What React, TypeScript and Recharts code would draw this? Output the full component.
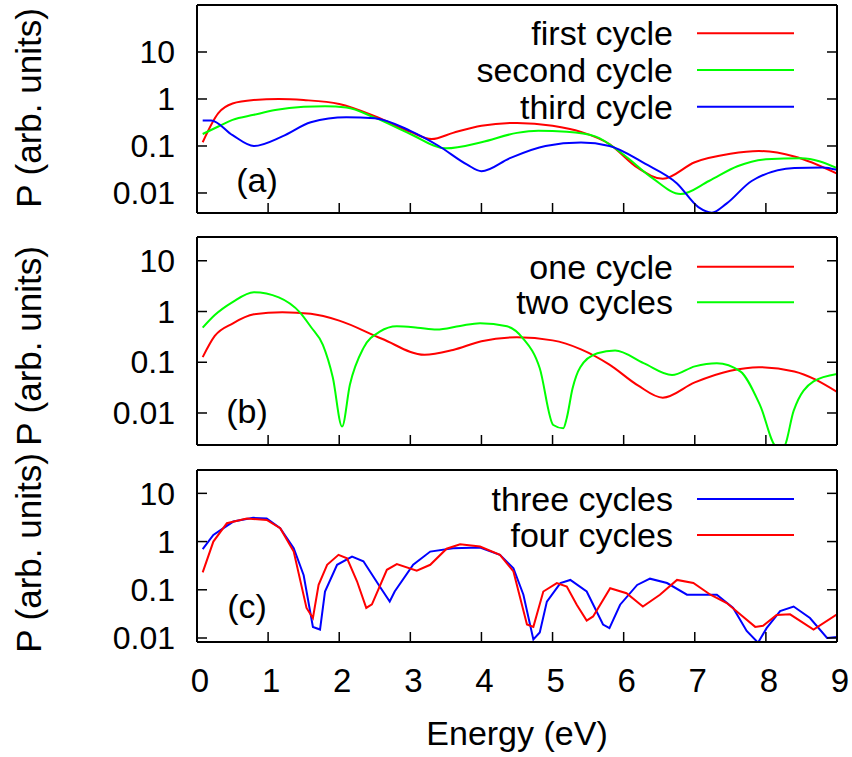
import React from 'react';
import { LineChart, Line, XAxis, YAxis, Legend } from 'recharts';

const FONT = '"Liberation Sans", Arial, Helvetica, sans-serif';

// x axis (Energy, eV) and y axis ticks
const energyTicks = [0, 1, 2, 3, 4, 5, 6, 7, 8, 9];
const powerTicks = [0.01, 0.1, 1, 10];

// panel (a)
const aFirstE = [0.08, 0.3, 0.5, 0.8, 1.15, 1.5, 2.0, 2.5, 3.0, 3.3, 3.6, 4.0, 4.5, 5.0, 5.4, 5.8, 6.2, 6.55, 7.0, 7.5, 7.9, 8.4, 9.0];
const aFirstP = [0.12, 0.5, 0.8, 0.95, 1.0, 0.95, 0.78, 0.43, 0.2, 0.14, 0.19, 0.27, 0.31, 0.27, 0.2, 0.11, 0.034, 0.02, 0.045, 0.068, 0.078, 0.06, 0.026];
const aSecondE = [0.08, 0.3, 0.5, 0.8, 1.1, 1.5, 1.8, 2.1, 2.5, 3.0, 3.5, 4.0, 4.5, 4.8, 5.2, 5.6, 6.0, 6.4, 6.8, 7.2, 7.6, 8.0, 8.5, 9.0];
const aSecondP = [0.18, 0.26, 0.36, 0.46, 0.58, 0.68, 0.7, 0.66, 0.4, 0.18, 0.089, 0.12, 0.19, 0.21, 0.2, 0.16, 0.065, 0.021, 0.0095, 0.018, 0.037, 0.052, 0.055, 0.034];
const aThirdE = [0.08, 0.2, 0.5, 0.8, 1.2, 1.6, 2.1, 2.5, 3.0, 3.4, 3.8, 4.0, 4.4, 4.9, 5.4, 5.8, 6.3, 6.75, 7.05, 7.24, 7.45, 7.8, 8.4, 8.8, 9.0];
const aThirdP = [0.35, 0.35, 0.17, 0.1, 0.16, 0.32, 0.41, 0.39, 0.21, 0.1, 0.04, 0.029, 0.055, 0.1, 0.118, 0.1, 0.042, 0.016, 0.005, 0.0038, 0.006, 0.018, 0.034, 0.035, 0.031];

// panel (b)
const bOneE = [0.08, 0.25, 0.5, 0.8, 1.2, 1.6, 2.0, 2.6, 3.2, 3.6, 4.0, 4.5, 5.0, 5.4, 5.8, 6.2, 6.55, 7.0, 7.5, 7.9, 8.4, 9.0];
const bOneP = [0.126, 0.33, 0.58, 0.88, 0.97, 0.9, 0.66, 0.29, 0.14, 0.175, 0.26, 0.31, 0.27, 0.18, 0.09, 0.035, 0.02, 0.04, 0.068, 0.08, 0.066, 0.026];
const bTwoE = [0.08, 0.25, 0.5, 0.8, 1.15, 1.45, 1.6, 1.77, 1.91, 2.04, 2.15, 2.34, 2.57, 2.81, 3.1, 3.37, 3.7, 3.98, 4.36, 4.58, 4.82, 5.01, 5.15, 5.2, 5.28, 5.39, 5.63, 5.88, 6.28, 6.68, 7.0, 7.31, 7.64, 7.92, 8.15, 8.25, 8.39, 8.67, 9.0];
const bTwoP = [0.48, 0.85, 1.53, 2.4, 1.9, 0.95, 0.5, 0.22, 0.05, 0.0054, 0.036, 0.19, 0.4, 0.51, 0.48, 0.44, 0.52, 0.59, 0.51, 0.3, 0.076, 0.0058, 0.005, 0.008, 0.03, 0.08, 0.15, 0.17, 0.096, 0.056, 0.083, 0.096, 0.066, 0.014, 0.0022, 0.0022, 0.011, 0.042, 0.059];

// panel (c)
const cThreeE = [0.08, 0.23, 0.51, 0.79, 0.98, 1.17, 1.36, 1.5, 1.63, 1.73, 1.8, 1.97, 2.18, 2.34, 2.57, 2.71, 2.78, 3.04, 3.28, 3.6, 3.98, 4.26, 4.45, 4.59, 4.73, 4.82, 4.92, 5.11, 5.25, 5.48, 5.71, 5.8, 5.95, 6.19, 6.37, 6.61, 6.89, 7.12, 7.31, 7.54, 7.73, 7.89, 8.01, 8.2, 8.39, 8.62, 8.86, 9.0];
const cThreeP = [0.7, 1.37, 2.6, 3.1, 3.0, 1.9, 0.73, 0.2, 0.017, 0.015, 0.092, 0.33, 0.49, 0.39, 0.117, 0.057, 0.092, 0.33, 0.62, 0.73, 0.75, 0.53, 0.28, 0.079, 0.0093, 0.013, 0.057, 0.138, 0.16, 0.092, 0.019, 0.016, 0.049, 0.126, 0.17, 0.138, 0.079, 0.079, 0.079, 0.042, 0.014, 0.008, 0.016, 0.036, 0.045, 0.026, 0.01, 0.0105];
const cFourE = [0.08, 0.23, 0.42, 0.7, 0.98, 1.17, 1.36, 1.54, 1.63, 1.71, 1.83, 1.99, 2.11, 2.25, 2.38, 2.46, 2.67, 2.81, 3.09, 3.28, 3.51, 3.7, 3.98, 4.26, 4.45, 4.64, 4.73, 4.87, 5.06, 5.2, 5.34, 5.48, 5.57, 5.81, 6.04, 6.27, 6.51, 6.75, 6.98, 7.22, 7.45, 7.65, 7.85, 7.96, 8.15, 8.34, 8.67, 9.0];
const cFourP = [0.23, 1.0, 2.4, 3.0, 2.8, 1.9, 0.62, 0.042, 0.026, 0.127, 0.33, 0.53, 0.45, 0.15, 0.042, 0.05, 0.26, 0.34, 0.25, 0.33, 0.71, 0.88, 0.79, 0.53, 0.24, 0.019, 0.017, 0.092, 0.138, 0.117, 0.049, 0.023, 0.028, 0.108, 0.085, 0.045, 0.079, 0.16, 0.138, 0.079, 0.053, 0.03, 0.017, 0.018, 0.03, 0.031, 0.015, 0.031];

const pts = (e: number[], p: number[]) => e.map((x, i) => ({ e: x, p: p[i] }));

type Series = { name: string; color: string; e: number[]; p: number[] };

const TICK = 10;

const LeftTick = (props: any) => {
  const { x, y, payload } = props;
  return (
    <g>
      <line x1={x} y1={y} x2={x + TICK} y2={y} stroke="#000" strokeWidth={1.5} />
      <text x={x - 22} y={y} dy="0.35em" textAnchor="end" fontSize={32} fontFamily={FONT} fill="#000">
        {String(payload.value)}
      </text>
    </g>
  );
};

const RightTick = (props: any) => {
  const { x, y } = props;
  return <line x1={x} y1={y} x2={x - TICK} y2={y} stroke="#000" strokeWidth={1.5} />;
};

const TopTick = (props: any) => {
  const { x, y } = props;
  return <line x1={x} y1={y} x2={x} y2={y + TICK} stroke="#000" strokeWidth={1.5} />;
};

const makeBottomTick = (showLabel: boolean) => (props: any) => {
  const { x, y, payload } = props;
  return (
    <g>
      <line x1={x} y1={y} x2={x} y2={y - TICK} stroke="#000" strokeWidth={1.5} />
      {showLabel && (
        <text x={x + 3} y={y + 50} textAnchor="middle" fontSize={33} fontFamily={FONT} fill="#000">
          {String(payload.value)}
        </text>
      )}
    </g>
  );
};

const makeLegend = (rows: number[], order: string[]) => (props: any) => {
  const items = [...(props.payload || [])].sort(
    (a: any, b: any) => order.indexOf(a.value) - order.indexOf(b.value)
  );
  return (
    <svg width={852} height={130} style={{ position: 'absolute', left: 0, top: 0, overflow: 'visible' }}>
      {items.map((it: any, i: number) => (
        <g key={i}>
          <text x={673} y={rows[i]} dy="0.35em" textAnchor="end" fontSize={34} fontFamily={FONT} fill="#000">
            {it.value}
          </text>
          <line x1={697} x2={794} y1={rows[i]} y2={rows[i]} stroke={it.color} strokeWidth={2} />
        </g>
      ))}
    </svg>
  );
};

type PanelProps = {
  top: number;
  height: number;
  plotTop: number;
  plotBottom: number;
  domain: [number, number];
  series: Series[];
  legendRows: number[];
  tag: string;
  tagX: number;
  tagY: number;
  labelY: number;
  showX: boolean;
  curve: 'monotone' | 'linear';
};

const axisLine = { stroke: '#000', strokeWidth: 2 };

function Panel(p: PanelProps) {
  return (
    <div style={{ position: 'absolute', left: 0, top: p.top, width: 852, height: p.height }}>
      <LineChart
        width={852}
        height={p.height}
        margin={{ top: p.plotTop - 1, right: 14, bottom: p.height - p.plotBottom - 1, left: 196 }}
      >
        <XAxis
          xAxisId="b"
          type="number"
          dataKey="e"
          domain={[0, 9]}
          ticks={energyTicks}
          allowDataOverflow
          height={1}
          tickSize={0}
          tickMargin={0}
          tickLine={false}
          axisLine={axisLine}
          tick={makeBottomTick(p.showX)}
          label={
            p.showX
              ? { value: 'Energy (eV)', position: 'bottom', offset: 78, fontSize: 34, fontFamily: FONT, fill: '#000' }
              : undefined
          }
        />
        <XAxis
          xAxisId="t"
          orientation="top"
          type="number"
          domain={[0, 9]}
          ticks={energyTicks}
          allowDataOverflow
          height={1}
          tickSize={0}
          tickMargin={0}
          tickLine={false}
          axisLine={axisLine}
          tick={TopTick}
        />
        <YAxis
          yAxisId="l"
          scale="log"
          type="number"
          domain={p.domain}
          ticks={powerTicks}
          allowDataOverflow
          width={1}
          tickSize={0}
          tickMargin={0}
          tickLine={false}
          axisLine={axisLine}
          tick={LeftTick}
          label={{
            content: () => (
              <text
                x={29}
                y={p.labelY}
                transform={`rotate(-90, 29, ${p.labelY})`}
                textAnchor="middle"
                dy="0.35em"
                fontSize={35}
                fontFamily={FONT}
                fill="#000"
              >
                P (arb. units)
              </text>
            ),
          }}
        />
        <YAxis
          yAxisId="r"
          orientation="right"
          scale="log"
          type="number"
          domain={p.domain}
          ticks={powerTicks}
          allowDataOverflow
          width={1}
          tickSize={0}
          tickMargin={0}
          tickLine={false}
          axisLine={axisLine}
          tick={RightTick}
        />
        {p.series.map((s) => (
          <Line
            key={s.name}
            xAxisId="b"
            yAxisId="l"
            data={pts(s.e, s.p)}
            dataKey="p"
            name={s.name}
            type={p.curve}
            stroke={s.color}
            strokeWidth={2}
            dot={false}
            activeDot={false}
            isAnimationActive={false}
          />
        ))}
        <Legend
          layout="vertical"
          align="center"
          verticalAlign="middle"
          wrapperStyle={{ left: 0, top: 0, width: 852, height: 130 }}
          content={makeLegend(p.legendRows, p.series.map((s) => s.name))}
        />
      </LineChart>
      <div
        style={{
          position: 'absolute',
          left: p.tagX - 40,
          width: 80,
          top: p.tagY - 31,
          textAlign: 'center',
          fontSize: 34,
          lineHeight: '38px',
          fontFamily: FONT,
          color: '#000',
        }}
      >
        {p.tag}
      </div>
    </div>
  );
}

export default function App() {
  return (
    <div style={{ position: 'absolute', left: 0, top: 0, width: 852, height: 757, background: '#fff' }}>
      <Panel
        top={0}
        height={226}
        plotTop={5}
        plotBottom={213}
        domain={[0.00375, 100]}
        series={[
          { name: 'first cycle', color: '#ff0000', e: aFirstE, p: aFirstP },
          { name: 'second cycle', color: '#00ff00', e: aSecondE, p: aSecondP },
          { name: 'third cycle', color: '#0000ff', e: aThirdE, p: aThirdP },
        ]}
        legendRows={[33.3, 70, 106.7]}
        tag="(a)"
        tagX={257}
        tagY={192}
        labelY={108}
        showX={false}
        curve="monotone"
      />
      <Panel
        top={226}
        height={226}
        plotTop={11}
        plotBottom={219}
        domain={[0.00234, 29.4]}
        series={[
          { name: 'one cycle', color: '#ff0000', e: bOneE, p: bOneP },
          { name: 'two cycles', color: '#00ff00', e: bTwoE, p: bTwoP },
        ]}
        legendRows={[40.7, 76.3]}
        tag="(b)"
        tagX={247}
        tagY={197}
        labelY={120}
        showX={false}
        curve="monotone"
      />
      <Panel
        top={452}
        height={305}
        plotTop={18}
        plotBottom={190}
        domain={[0.00826, 30.5]}
        series={[
          { name: 'three cycles', color: '#0000ff', e: cThreeE, p: cThreeP },
          { name: 'four cycles', color: '#ff0000', e: cFourE, p: cFourP },
        ]}
        legendRows={[47, 83]}
        tag="(c)"
        tagX={247}
        tagY={166}
        labelY={101}
        showX={true}
        curve="linear"
      />
    </div>
  );
}
